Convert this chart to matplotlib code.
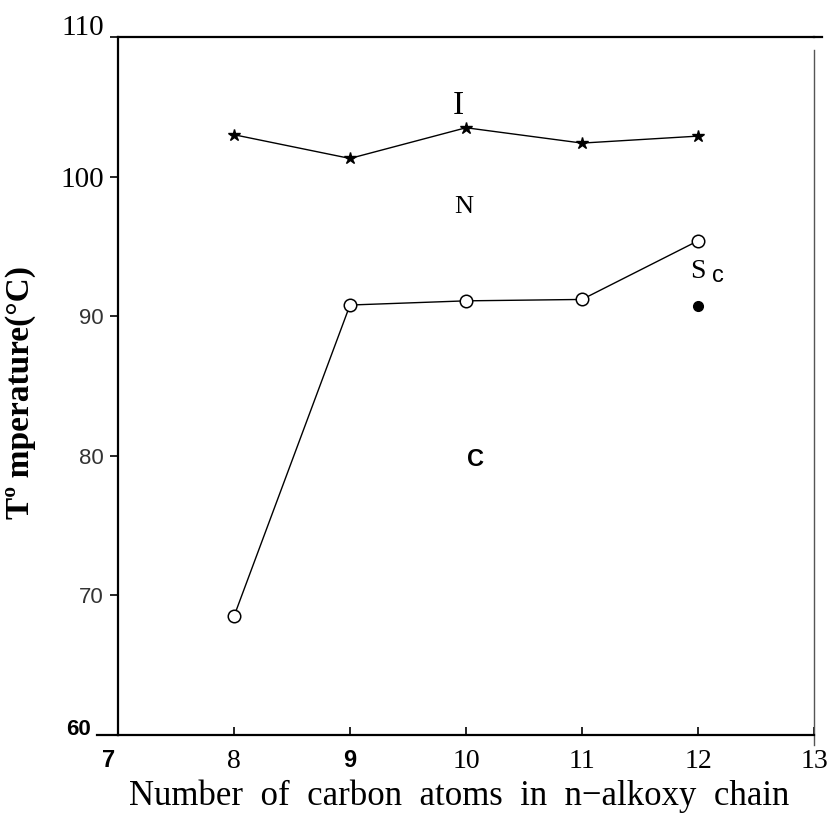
import matplotlib.pyplot as plt
from matplotlib.lines import Line2D
from matplotlib.transforms import ScaledTranslation

# carbon number of the n-alkoxy chain
carbons = [8, 9, 10, 11, 12]
# N -> I (clearing) temperatures, stars
t_clear = [103.0, 101.3, 103.5, 102.4, 102.9]
# C -> N / Sc melting temperatures, open circles
t_melt = [68.5, 90.8, 91.1, 91.2, 95.4]
# Sc -> N transition (single filled point)
sc_carbon = [12]
sc_temp = [90.7]

xticks = [7, 8, 9, 10, 11, 12, 13]
yticks = [60, 70, 80, 90, 100, 110]

fig = plt.figure(figsize=(8.27, 8.16), dpi=100)
ax = fig.add_axes([118 / 827, 81 / 816, 696 / 827, 698 / 816])

ax.plot(carbons, t_clear, color='black', lw=1.0, marker='*', ms=9, clip_on=False)
ax.plot(carbons, t_melt, color='black', lw=1.0, marker='o', ms=9,
        mfc='white', mec='black', mew=1.1, clip_on=False)
ax.plot(sc_carbon, sc_temp, 'o', color='black', ms=7)

ax.set_xlim(7, 13)
ax.set_ylim(60, 110)

# phase labels
ax.text(9.93, 105.1, 'I', fontsize=24, family='Liberation Serif', ha='center', va='center')
ax.text(9.98, 97.8, 'N', fontsize=19, family='Liberation Serif', ha='center', va='center')
ax.text(10.08, 79.7, 'C', fontsize=17, family='Liberation Sans', weight='bold',
        ha='center', va='center')
ax.text(12.0, 93.2, 'S', fontsize=20, family='Liberation Serif', ha='center', va='center')
ax.text(12.17, 92.9, 'c', fontsize=17, family='Liberation Sans', ha='center', va='center')

# axes frame
for side in ['left', 'bottom', 'top']:
    ax.spines[side].set_linewidth(1.6)
ax.spines['right'].set_linewidth(1.0)
ax.spines['right'].set_color('#555555')
ax.spines['right'].set_bounds(59.3, 109.1)
ax.add_line(Line2D([1.0, 1.012], [1.0, 1.0], transform=ax.transAxes, color='black',
                   lw=1.6, clip_on=False))
ax.add_line(Line2D([-0.03, 0.0], [0.0, 0.0], transform=ax.transAxes, color='black',
                   lw=1.6, clip_on=False))

ax.set_xticks(xticks)
ax.set_yticks(yticks)
ax.tick_params(axis='x', direction='in', length=6, width=1.2, pad=10)
ax.tick_params(axis='y', direction='out', length=6, width=1.2, pad=4)

x_fonts = {7: ('Liberation Sans', 'bold', 17), 9: ('Liberation Sans', 'bold', 17)}
for lab, v in zip(ax.get_xticklabels(), xticks):
    fam, wt, sz = x_fonts.get(v, ('Liberation Serif', 'normal', 20))
    lab.set_fontfamily(fam)
    lab.set_fontweight(wt)
    lab.set_fontsize(sz)
    if v == 7:
        lab.set_transform(lab.get_transform() + ScaledTranslation(-0.09, 0, fig.dpi_scale_trans))

y_fonts = {60: ('Liberation Sans', 'bold', 16, 'black'),
           70: ('Liberation Sans', 'normal', 16, '#333333'),
           80: ('Liberation Sans', 'normal', 16, '#333333'),
           90: ('Liberation Sans', 'normal', 16, '#333333'),
           100: ('Liberation Serif', 'normal', 21, 'black'),
           110: ('Liberation Serif', 'normal', 21, 'black')}
y_shift = {60: (-0.13, 0.08), 110: (0.0, 0.12)}
for lab, v in zip(ax.get_yticklabels(), yticks):
    fam, wt, sz, col = y_fonts[v]
    lab.set_fontfamily(fam)
    lab.set_fontweight(wt)
    lab.set_fontsize(sz)
    lab.set_color(col)
    if v in y_shift:
        dx, dy = y_shift[v]
        lab.set_transform(lab.get_transform() + ScaledTranslation(dx, dy, fig.dpi_scale_trans))

ax.set_xlabel('Number  of  carbon  atoms  in  n\u2212alkoxy  chain',
              family='Liberation Serif', fontsize=25)
ax.xaxis.set_label_coords(0.49, -0.064)
ax.set_ylabel('T\u00ba mperature(\u00b0C)', family='Liberation Serif', fontsize=24,
              weight='bold')
ax.yaxis.set_label_coords(-0.118, 0.49)

fig.savefig('out.png', dpi=100)
